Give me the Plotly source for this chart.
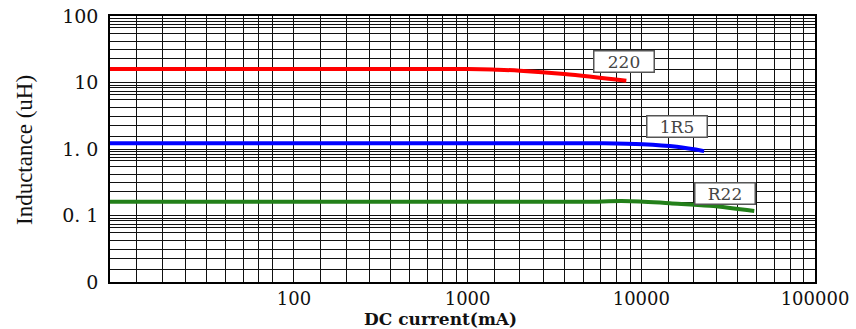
import numpy as np
import plotly.graph_objects as go

# ---- data ----
red_x = [8.7, 1000, 1450, 2000, 3600, 8200]
red_y = [15.96, 15.96, 15.6, 15.05, 13.4, 10.6]

blue_x = [8.7, 5800, 10200, 16000, 23000]
blue_y = [1.22, 1.22, 1.18, 1.08, 0.93]

green_x = [8.7, 5300, 6500, 9800, 14600, 24800, 44700]
green_y = [0.161, 0.161, 0.164, 0.163, 0.153, 0.140, 0.117]

series_names = ["220", "1R5", "R22"]

x_tickvals = [100, 1000, 10000, 100000]
x_ticktext = ["100", "1000", "10000", "100000"]
y_tickvals = [0.01, 0.1, 1, 10, 100]
y_ticktext = ["0", "0. 1", "1. 0", "10", "100"]

# ---- layout geometry / style ----
W, H = 856, 329
L, R, T, B = 110, 41, 16, 47
x_lo, x_hi = 0.941, 5.0       # log10 range of x axis
y_lo, y_hi = -2.0, 2.0        # log10 range of y axis

# chart-paper grid pattern (fraction of a decade)
x_pat = [0, .155, .300, .434, .556, .666, .767, .857, .936]
y_pat = [0, .19, .355, .495, .62, .74, .82, .87, .92, .955]

x_grid = []
for d0 in [x_lo, 2, 3, 4]:
    for f in x_pat:
        x_grid.append(10 ** (d0 + f))
x_grid += [100, 100000]
y_grid = []
for d0 in [-2, -1, 0, 1]:
    for f in y_pat:
        y_grid.append(10 ** (d0 + f))
y_grid.append(100)

FONT = "DejaVu Serif"
fig = go.Figure()
fig.add_trace(go.Scatter(x=red_x, y=red_y, mode="lines", name=series_names[0],
                         line=dict(color="#ff0000", width=4, shape="spline")))
fig.add_trace(go.Scatter(x=blue_x, y=blue_y, mode="lines", name=series_names[1],
                         line=dict(color="#0000ff", width=4, shape="spline")))
fig.add_trace(go.Scatter(x=green_x, y=green_y, mode="lines", name=series_names[2],
                         line=dict(color="#23801a", width=4, shape="spline")))

grid_col = "#111111"
axis_common = dict(type="log", tickmode="array", ticks="", automargin=False,
                   showgrid=True, gridcolor=grid_col, gridwidth=1.2,
                   showline=True, mirror=True, linecolor="black", linewidth=1.5,
                   zeroline=False)
fig.update_xaxes(range=[x_lo, x_hi], tickvals=x_tickvals, ticktext=x_ticktext,
                 ticklabelstandoff=0,
                 tickfont=dict(family=FONT, size=18, color="#111"),
                 minor=dict(tickmode="array", tickvals=x_grid, showgrid=True,
                            gridcolor=grid_col, gridwidth=1.2, ticks=""),
                 **axis_common)
fig.update_yaxes(range=[y_lo, y_hi], tickvals=y_tickvals, ticktext=y_ticktext,
                 ticklabelstandoff=6,
                 tickfont=dict(family=FONT, size=19, color="#111"),
                 minor=dict(tickmode="array", tickvals=y_grid, showgrid=True,
                            gridcolor=grid_col, gridwidth=1.2, ticks=""),
                 **axis_common)

pw, ph = W - L - R, H - T - B
def px(xp):
    return (xp - L) / pw
def py(yp):
    return (H - B - yp) / ph

labels = [("220", 624, 61), ("1R5", 676.5, 127), ("R22", 725, 193.5)]
for txt, cx, cy in labels:
    fig.add_annotation(x=px(cx), y=py(cy), xref="paper", yref="paper",
                       text=txt, showarrow=False, xanchor="center", yanchor="middle",
                       font=dict(family=FONT, size=17, color="#444"),
                       bgcolor="white", bordercolor="#555", borderwidth=1.5,
                       width=57, height=18, borderpad=1)

fig.add_annotation(x=px(440), y=py(318.5), xref="paper", yref="paper",
                   text="DC current(mA)", showarrow=False, xanchor="center",
                   yanchor="middle",
                   font=dict(family=FONT, size=17, color="#111", weight="bold"))
fig.add_annotation(x=px(24), y=py(150), xref="paper", yref="paper",
                   text="Inductance (uH)", showarrow=False, textangle=-90,
                   xanchor="center", yanchor="middle",
                   font=dict(family="Liberation Serif", size=23, color="#111"))

fig.update_layout(width=W, height=H, margin=dict(l=L, r=R, t=T, b=B, autoexpand=False),
                  plot_bgcolor="white", paper_bgcolor="white", showlegend=False)

fig.write_html("out.html")
